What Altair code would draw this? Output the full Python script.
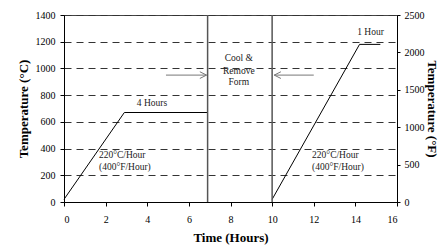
import altair as alt
import pandas as pd

# ---- data ----
seg_id = [1, 1, 1, 2, 2, 2]
prof_time = [0, 2.9, 6.9, 10, 14.2, 15.2]
prof_temp = [20, 670, 670, 20, 1180, 1180]

vline_time = [6.9, 10]

x_ticks = [0, 2, 4, 6, 8, 10, 12, 14, 16]
yc_ticks = [0, 200, 400, 600, 800, 1000, 1200, 1400]
yf_ticks = [0, 500, 1000, 1500, 2000, 2500]

arrow_start = [4.9, 12.0]
arrow_end = [6.85, 10.1]
arrow_temp = [950, 950]

note_text = ["4 Hours", "1 Hour", "Cool &", "Remove", "Form"]
note_x = [4.23, 14.73, 8.4, 8.4, 8.4]
note_y = [740, 1272, 1078, 980, 895]

rate_text = ["220°C/Hour", "(400°F/Hour)", "220°C/Hour", "(400°F/Hour)"]
rate_x = [1.68, 1.68, 11.92, 11.92]
rate_y = [352, 262, 352, 262]

FONT = "Liberation Serif"
W, H = 333, 187

prof = pd.DataFrame({"seg": seg_id, "t": prof_time, "c": prof_temp})
vl = pd.DataFrame({"t": vline_time, "y0": [0, 0], "y1": [1400, 1400]})
arr = pd.DataFrame({"t": arrow_start, "t2": arrow_end, "c": arrow_temp})
notes = pd.DataFrame({"txt": note_text, "t": note_x, "c": note_y})
rates = pd.DataFrame({"txt": rate_text, "t": rate_x, "c": rate_y})
fdf = pd.DataFrame({"f": yf_ticks})

xscale = alt.Scale(domain=[0, 16], nice=False, zero=False)
yscale = alt.Scale(domain=[0, 1400], nice=False, zero=False)

common = dict(labelFont=FONT, labelFontSize=10, labelColor="#000",
              titleFont=FONT, titleFontSize=13, titleFontWeight="bold",
              titleColor="#000", domainColor="#000", tickColor="#000",
              format="d")

xaxis = alt.Axis(values=x_ticks, title="Time (Hours)", grid=False,
                 tickSize=4, labelPadding=8, titlePadding=7, **common)
yaxis = alt.Axis(values=yc_ticks, title="Temperature (°C)", grid=True,
                 gridDash=[7, 5], gridColor="#333", gridWidth=1,
                 tickSize=4, labelPadding=5, titlePadding=5, **common)


def X(field):
    return alt.X(f"{field}:Q", scale=xscale, axis=xaxis)


def Y(field):
    return alt.Y(f"{field}:Q", scale=yscale, axis=yaxis)


lines = alt.Chart(prof).mark_line(color="#000", strokeWidth=1).encode(
    x=X("t"), y=Y("c"), detail="seg:N", order="t:Q")

vrules = alt.Chart(vl).mark_rule(color="#555", strokeWidth=1.5).encode(
    x=X("t"), y=Y("y0"), y2="y1:Q")

arrows = alt.Chart(arr).mark_rule(color="#777", strokeWidth=1).encode(
    x=X("t"), x2="t2:Q", y=Y("c"))

head_r = alt.Chart(arr.iloc[[0]]).mark_point(
    shape="M-1,-0.5L0,0L-1,0.5", filled=False, color="#777",
    strokeWidth=1, size=180, opacity=1).encode(x=X("t2"), y=Y("c"))
head_l = alt.Chart(arr.iloc[[1]]).mark_point(
    shape="M1,-0.5L0,0L1,0.5", filled=False, color="#777",
    strokeWidth=1, size=180, opacity=1).encode(x=X("t2"), y=Y("c"))

note_layer = alt.Chart(notes).mark_text(
    font=FONT, fontSize=9.5, color="#222", align="center", baseline="middle"
).encode(x=X("t"), y=Y("c"), text="txt:N")

rate_layer = alt.Chart(rates).mark_text(
    font=FONT, fontSize=9.5, color="#222", align="left", baseline="middle"
).encode(x=X("t"), y=Y("c"), text="txt:N")

left = alt.layer(lines, vrules, arrows, head_r, head_l, note_layer, rate_layer)

right = alt.Chart(fdf).mark_point(opacity=0).encode(
    x=alt.X("f:Q", scale=xscale, axis=xaxis, aggregate="min"),
    y=alt.Y("f:Q", scale=alt.Scale(domain=[0, 2500], nice=False, zero=False),
            axis=alt.Axis(orient="right", values=yf_ticks, title="Temperature (°F)",
                          grid=False, tickSize=3, labelPadding=4, titlePadding=0,
                          **common)))

chart = alt.layer(left, right).resolve_scale(y="independent").properties(
    width=W, height=H,
    autosize=alt.AutoSizeParams(type="none"),
    padding={"left": 56, "top": 7, "right": 42, "bottom": 44},
    background="#ffffff",
).configure_view(stroke="#444", strokeWidth=1)

chart.save("out.html", embed_options={"renderer": "svg", "actions": False})
